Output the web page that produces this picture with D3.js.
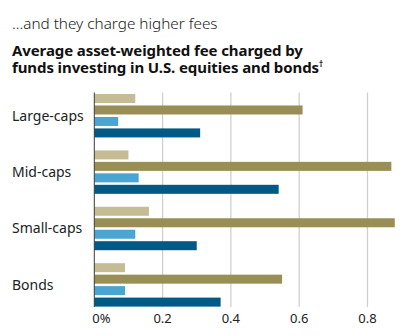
<!DOCTYPE html>
<html><head><meta charset="utf-8">
<script src="https://cdn.jsdelivr.net/npm/d3@7"></script>
<style>
html,body{margin:0;padding:0;background:#fff;}
svg{display:block;font-family:"Noto Sans","Open Sans",sans-serif;}
</style></head>
<body><svg id="c" width="420" height="336"></svg>
<script>
const categories = ["Large-caps", "Mid-caps", "Small-caps", "Bonds"];
const seriesNames = ["Series 1", "Series 2", "Series 3", "Series 4"];
const series1 = [0.12, 0.10, 0.16, 0.09];
const series2 = [0.61, 0.87, 0.88, 0.55];
const series3 = [0.07, 0.13, 0.12, 0.09];
const series4 = [0.31, 0.54, 0.30, 0.37];
const tickValues = [0, 0.2, 0.4, 0.6, 0.8];
const tickLabels = ["0%", "0.2", "0.4", "0.6", "0.8"];
const colors = ["#c5bc96", "#998e55", "#4aa5d2", "#015a86"];

(function () {
const allSeries = [series1, series2, series3, series4];
const svg = d3.select("#c");

svg.append("text").attr("x", 12).attr("y", 29)
  .attr("font-size", 15.3).attr("font-weight", 300).attr("fill", "#222")
  .text("...and they charge higher fees");
const title = svg.append("text").attr("x", 12).attr("y", 56)
  .attr("font-size", 15).attr("font-weight", 700).attr("fill", "#111")
  .attr("letter-spacing", -0.1);
title.append("tspan").attr("x", 12).attr("y", 56).text("Average asset-weighted fee charged by");
title.append("tspan").attr("x", 12).attr("y", 73).text("funds investing in U.S. equities and bonds");
title.append("tspan").attr("font-size", 8).attr("dy", -6).text("†");

const x = d3.scaleLinear().domain([0, 0.9]).range([94.3, 401.6]);
const y0 = d3.scaleBand().domain(categories).range([94, 306.6]).paddingInner(0.23).paddingOuter(0);
const y1 = d3.scaleBand().domain(seriesNames).range([0, y0.bandwidth()]).paddingInner(0.215).paddingOuter(0);

const yTop = 92.5, yBottom = 307;
svg.append("g").selectAll("line").data(tickValues.slice(1)).join("line")
  .attr("x1", d => x(d)).attr("x2", d => x(d))
  .attr("y1", yTop).attr("y2", yBottom)
  .attr("stroke", "#d0d0d0").attr("stroke-width", 1.3);

const g = svg.append("g");
categories.forEach((cat, i) => {
  allSeries.forEach((s, j) => {
    g.append("rect")
      .attr("x", x(0))
      .attr("y", y0(cat) + y1(seriesNames[j]))
      .attr("width", x(s[i]) - x(0))
      .attr("height", y1.bandwidth())
      .attr("fill", colors[j]);
  });
});

svg.append("line").attr("x1", x(0)).attr("x2", x(0)).attr("y1", yTop).attr("y2", yBottom)
  .attr("stroke", "#3a3a3a").attr("stroke-width", 1);

svg.append("g").selectAll("text").data(tickValues).join("text")
  .attr("x", (d, i) => i === 0 ? x(d) - 2 : x(d))
  .attr("y", 323)
  .attr("text-anchor", (d, i) => i === 0 ? "start" : "middle")
  .attr("font-size", 13).attr("fill", "#222")
  .text((d, i) => tickLabels[i]);

svg.append("g").selectAll("text").data(categories).join("text")
  .attr("x", 12)
  .attr("y", d => y0(d) + y0.bandwidth() / 2 + 5)
  .attr("font-size", 14).attr("fill", "#222")
  .text(d => d);
})();
</script></body></html>
